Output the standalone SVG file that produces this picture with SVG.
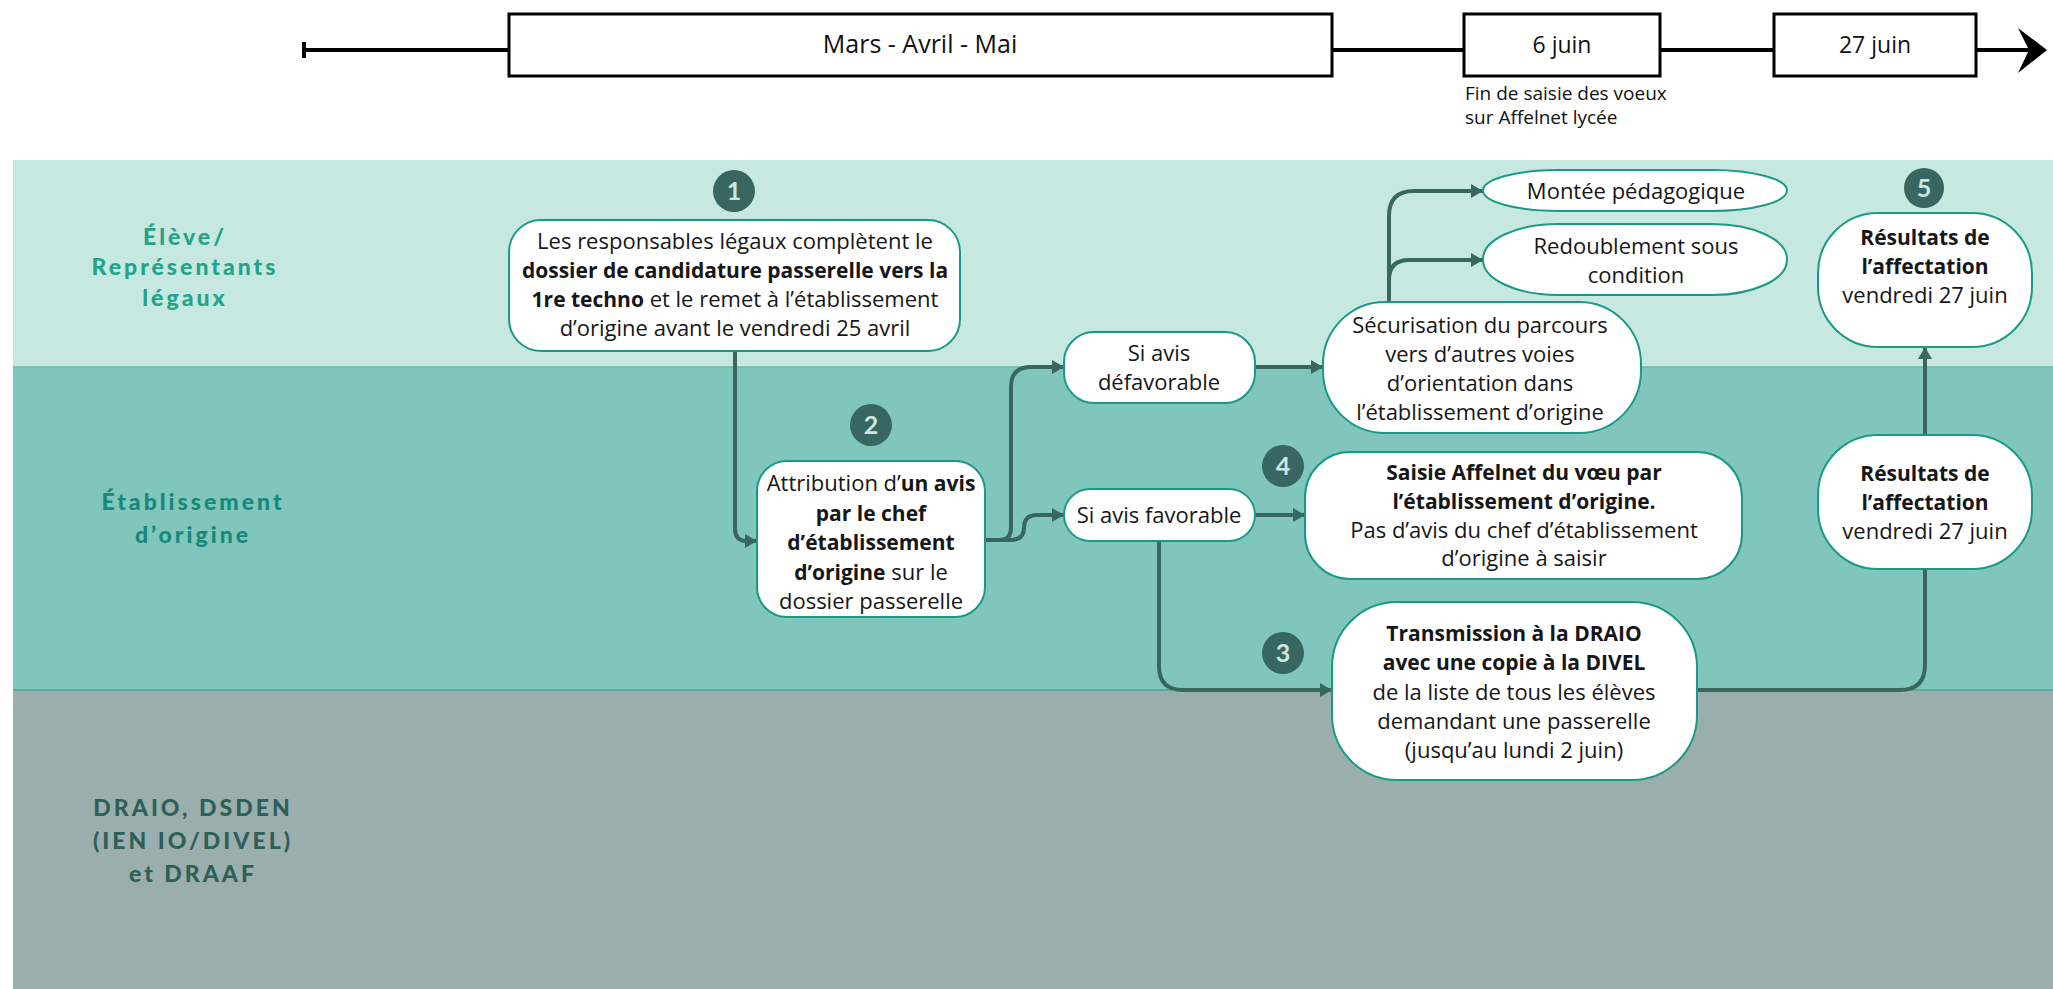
<svg xmlns="http://www.w3.org/2000/svg" width="2053" height="989" viewBox="0 0 2053 989">
<defs>
<style>
.t{font-family:"Open Sans","Noto Sans",sans-serif;font-size:22px;fill:#161616;text-anchor:middle}
.b{font-weight:bold;font-size:21px}
.node{fill:#fff;stroke:#199a86;stroke-width:2}
.con{fill:none;stroke:#396760;stroke-width:4}
.lane{font-family:Lato,"Noto Sans",sans-serif;font-size:23px;font-weight:900;letter-spacing:3px;text-anchor:middle}
.tl{font-family:"Open Sans","Noto Sans",sans-serif;fill:#111}
.num{fill:#386660}
.numt{font-family:Lato,"Noto Sans",sans-serif;font-size:25px;font-weight:bold;fill:#c9e6e0;text-anchor:middle}
</style>
<marker id="ah" markerUnits="userSpaceOnUse" markerWidth="13" markerHeight="14" refX="12" refY="7" orient="auto">
<path d="M0,0 L12,7 L0,14 z" fill="#396760"/>
</marker>
</defs>
<rect width="2053" height="989" fill="#fff"/>
<!-- lanes -->
<g id="lanes">
<rect x="13" y="160" width="2040" height="207" fill="#c6e8e0"/>
<rect x="13" y="367" width="2040" height="323" fill="#80c6bd"/>
<rect x="13" y="690" width="2040" height="299" fill="#9aafad"/>
<line x1="13" y1="367" x2="2053" y2="367" stroke="#6db8ad" stroke-width="1.5"/>
<line x1="13" y1="690" x2="2053" y2="690" stroke="#62a79e" stroke-width="2"/>
<text class="lane" fill="#22a38a"><tspan x="185" y="245">Élève/</tspan><tspan x="185" y="275">Représentants</tspan><tspan x="185" y="306">légaux</tspan></text>
<text class="lane" fill="#15897a"><tspan x="193" y="510">Établissement</tspan><tspan x="193" y="543">d’origine</tspan></text>
<text class="lane" fill="#2f5f58"><tspan x="193" y="816">DRAIO, DSDEN</tspan><tspan x="193" y="849">(IEN IO/DIVEL)</tspan><tspan x="193" y="882">et DRAAF</tspan></text>
</g>
<!-- timeline -->
<g id="timeline">
<line x1="304" y1="50" x2="2030" y2="50" stroke="#000" stroke-width="4"/>
<line x1="304" y1="42" x2="304" y2="58" stroke="#000" stroke-width="4"/>
<path d="M2018,28 L2047,50 L2018,73 L2029,50 z" fill="#000"/>
<rect x="509" y="14" width="823" height="62" fill="#fff" stroke="#000" stroke-width="3"/>
<text class="tl" x="920" y="53" font-size="25" text-anchor="middle">Mars - Avril - Mai</text>
<rect x="1464" y="14" width="196" height="62" fill="#fff" stroke="#000" stroke-width="3"/>
<text class="tl" x="1562" y="53" font-size="23" text-anchor="middle">6 juin</text>
<rect x="1774" y="14" width="202" height="62" fill="#fff" stroke="#000" stroke-width="3"/>
<text class="tl" x="1875" y="53" font-size="23" text-anchor="middle">27 juin</text>
<text class="tl" font-size="19"><tspan x="1465" y="100">Fin de saisie des voeux</tspan><tspan x="1465" y="124">sur Affelnet lycée</tspan></text>
</g>
<!-- connectors -->
<g id="connectors">
<path class="con" d="M735,351 V529 Q735,541 747,541 H757" marker-end="url(#ah)"/>
<path class="con" d="M985,540 H999 Q1011,540 1011,528 V387 Q1011,367 1031,367 H1064" marker-end="url(#ah)"/>
<path class="con" d="M985,540 H1010 Q1024,540 1024,528 Q1024,515 1037,515 H1064" marker-end="url(#ah)"/>
<path class="con" d="M1255,367 H1323" marker-end="url(#ah)"/>
<path class="con" d="M1255,515 H1305" marker-end="url(#ah)"/>
<path class="con" d="M1159,541 V666 Q1159,690 1183,690 H1332" marker-end="url(#ah)"/>
<path class="con" d="M1389,302 V216 Q1389,191 1414,191 H1483" marker-end="url(#ah)"/>
<path class="con" d="M1389,280 Q1389,260 1409,260 H1483" marker-end="url(#ah)"/>
<path class="con" d="M1697,690 H1900 Q1925,690 1925,665 V569"/>
<path class="con" d="M1925,435 V347" marker-end="url(#ah)"/>
</g>
<!-- nodes -->
<g id="step1">
<circle class="num" cx="734" cy="191" r="21"/>
<text class="numt" x="734" y="200">1</text>
</g>
<g id="n1">
<rect class="node" x="509" y="220" width="451" height="131" rx="32"/>
<text class="t"><tspan x="735" y="249">Les responsables légaux complètent le</tspan><tspan x="735" y="278" class="b">dossier de candidature passerelle vers la</tspan><tspan x="735" y="307"><tspan class="b">1re techno</tspan> et le remet à l’établissement</tspan><tspan x="735" y="336">d’origine avant le vendredi 25 avril</tspan></text>
</g>
<g id="step2">
<circle class="num" cx="871" cy="425" r="21"/>
<text class="numt" x="871" y="434">2</text>
</g>
<g id="n2">
<rect class="node" x="757" y="461" width="228" height="156" rx="30"/>
<text class="t"><tspan x="871" y="491">Attribution d’<tspan class="b">un avis</tspan></tspan><tspan x="871" y="521" class="b">par le chef</tspan><tspan x="871" y="550" class="b">d’établissement</tspan><tspan x="871" y="580"><tspan class="b">d’origine</tspan> sur le</tspan><tspan x="871" y="609">dossier passerelle</tspan></text>
</g>
<g id="defavorable">
<rect class="node" x="1064" y="332" width="191" height="71" rx="30"/>
<text class="t"><tspan x="1159" y="361">Si avis</tspan><tspan x="1159" y="390">défavorable</tspan></text>
</g>
<g id="favorable">
<rect class="node" x="1064" y="489" width="191" height="52" rx="26"/>
<text class="t" x="1159" y="523">Si avis favorable</text>
</g>
<g id="securisation">
<rect class="node" x="1323" y="302" width="318" height="131" rx="62"/>
<text class="t"><tspan x="1480" y="333">Sécurisation du parcours</tspan><tspan x="1480" y="362">vers d’autres voies</tspan><tspan x="1480" y="391">d’orientation dans</tspan><tspan x="1480" y="420">l’établissement d’origine</tspan></text>
</g>
<g id="montee">
<rect class="node" x="1483" y="170" width="304" height="41" rx="75" ry="20.5"/>
<text class="t" x="1636" y="199">Montée pédagogique</text>
</g>
<g id="redoublement">
<rect class="node" x="1483" y="224" width="304" height="71" rx="75" ry="35"/>
<text class="t"><tspan x="1636" y="254">Redoublement sous</tspan><tspan x="1636" y="283">condition</tspan></text>
</g>
<g id="step4">
<circle class="num" cx="1283" cy="466" r="21"/>
<text class="numt" x="1283" y="475">4</text>
</g>
<g id="saisie">
<rect class="node" x="1305" y="452" width="437" height="127" rx="45"/>
<text class="t"><tspan x="1524" y="480" class="b">Saisie Affelnet du vœu par</tspan><tspan x="1524" y="509" class="b">l’établissement d’origine.</tspan><tspan x="1524" y="538">Pas d’avis du chef d’établissement</tspan><tspan x="1524" y="566">d’origine à saisir</tspan></text>
</g>
<g id="step3">
<circle class="num" cx="1283" cy="653" r="21"/>
<text class="numt" x="1283" y="662">3</text>
</g>
<g id="transmission">
<rect class="node" x="1332" y="602" width="365" height="178" rx="65"/>
<text class="t"><tspan x="1514" y="641" class="b">Transmission à la DRAIO</tspan><tspan x="1514" y="670" class="b">avec une copie à la DIVEL</tspan><tspan x="1514" y="700">de la liste de tous les élèves</tspan><tspan x="1514" y="729">demandant une passerelle</tspan><tspan x="1514" y="758">(jusqu’au lundi 2 juin)</tspan></text>
</g>
<g id="step5">
<circle class="num" cx="1924" cy="188" r="20"/>
<text class="numt" x="1924" y="197">5</text>
</g>
<g id="resultats-top">
<rect class="node" x="1818" y="213" width="214" height="134" rx="60"/>
<text class="t"><tspan x="1925" y="245" class="b">Résultats de</tspan><tspan x="1925" y="274" class="b">l’affectation</tspan><tspan x="1925" y="303">vendredi 27 juin</tspan></text>
</g>
<g id="resultats-mid">
<rect class="node" x="1818" y="435" width="214" height="134" rx="60"/>
<text class="t"><tspan x="1925" y="481" class="b">Résultats de</tspan><tspan x="1925" y="510" class="b">l’affectation</tspan><tspan x="1925" y="539">vendredi 27 juin</tspan></text>
</g>
</svg>
